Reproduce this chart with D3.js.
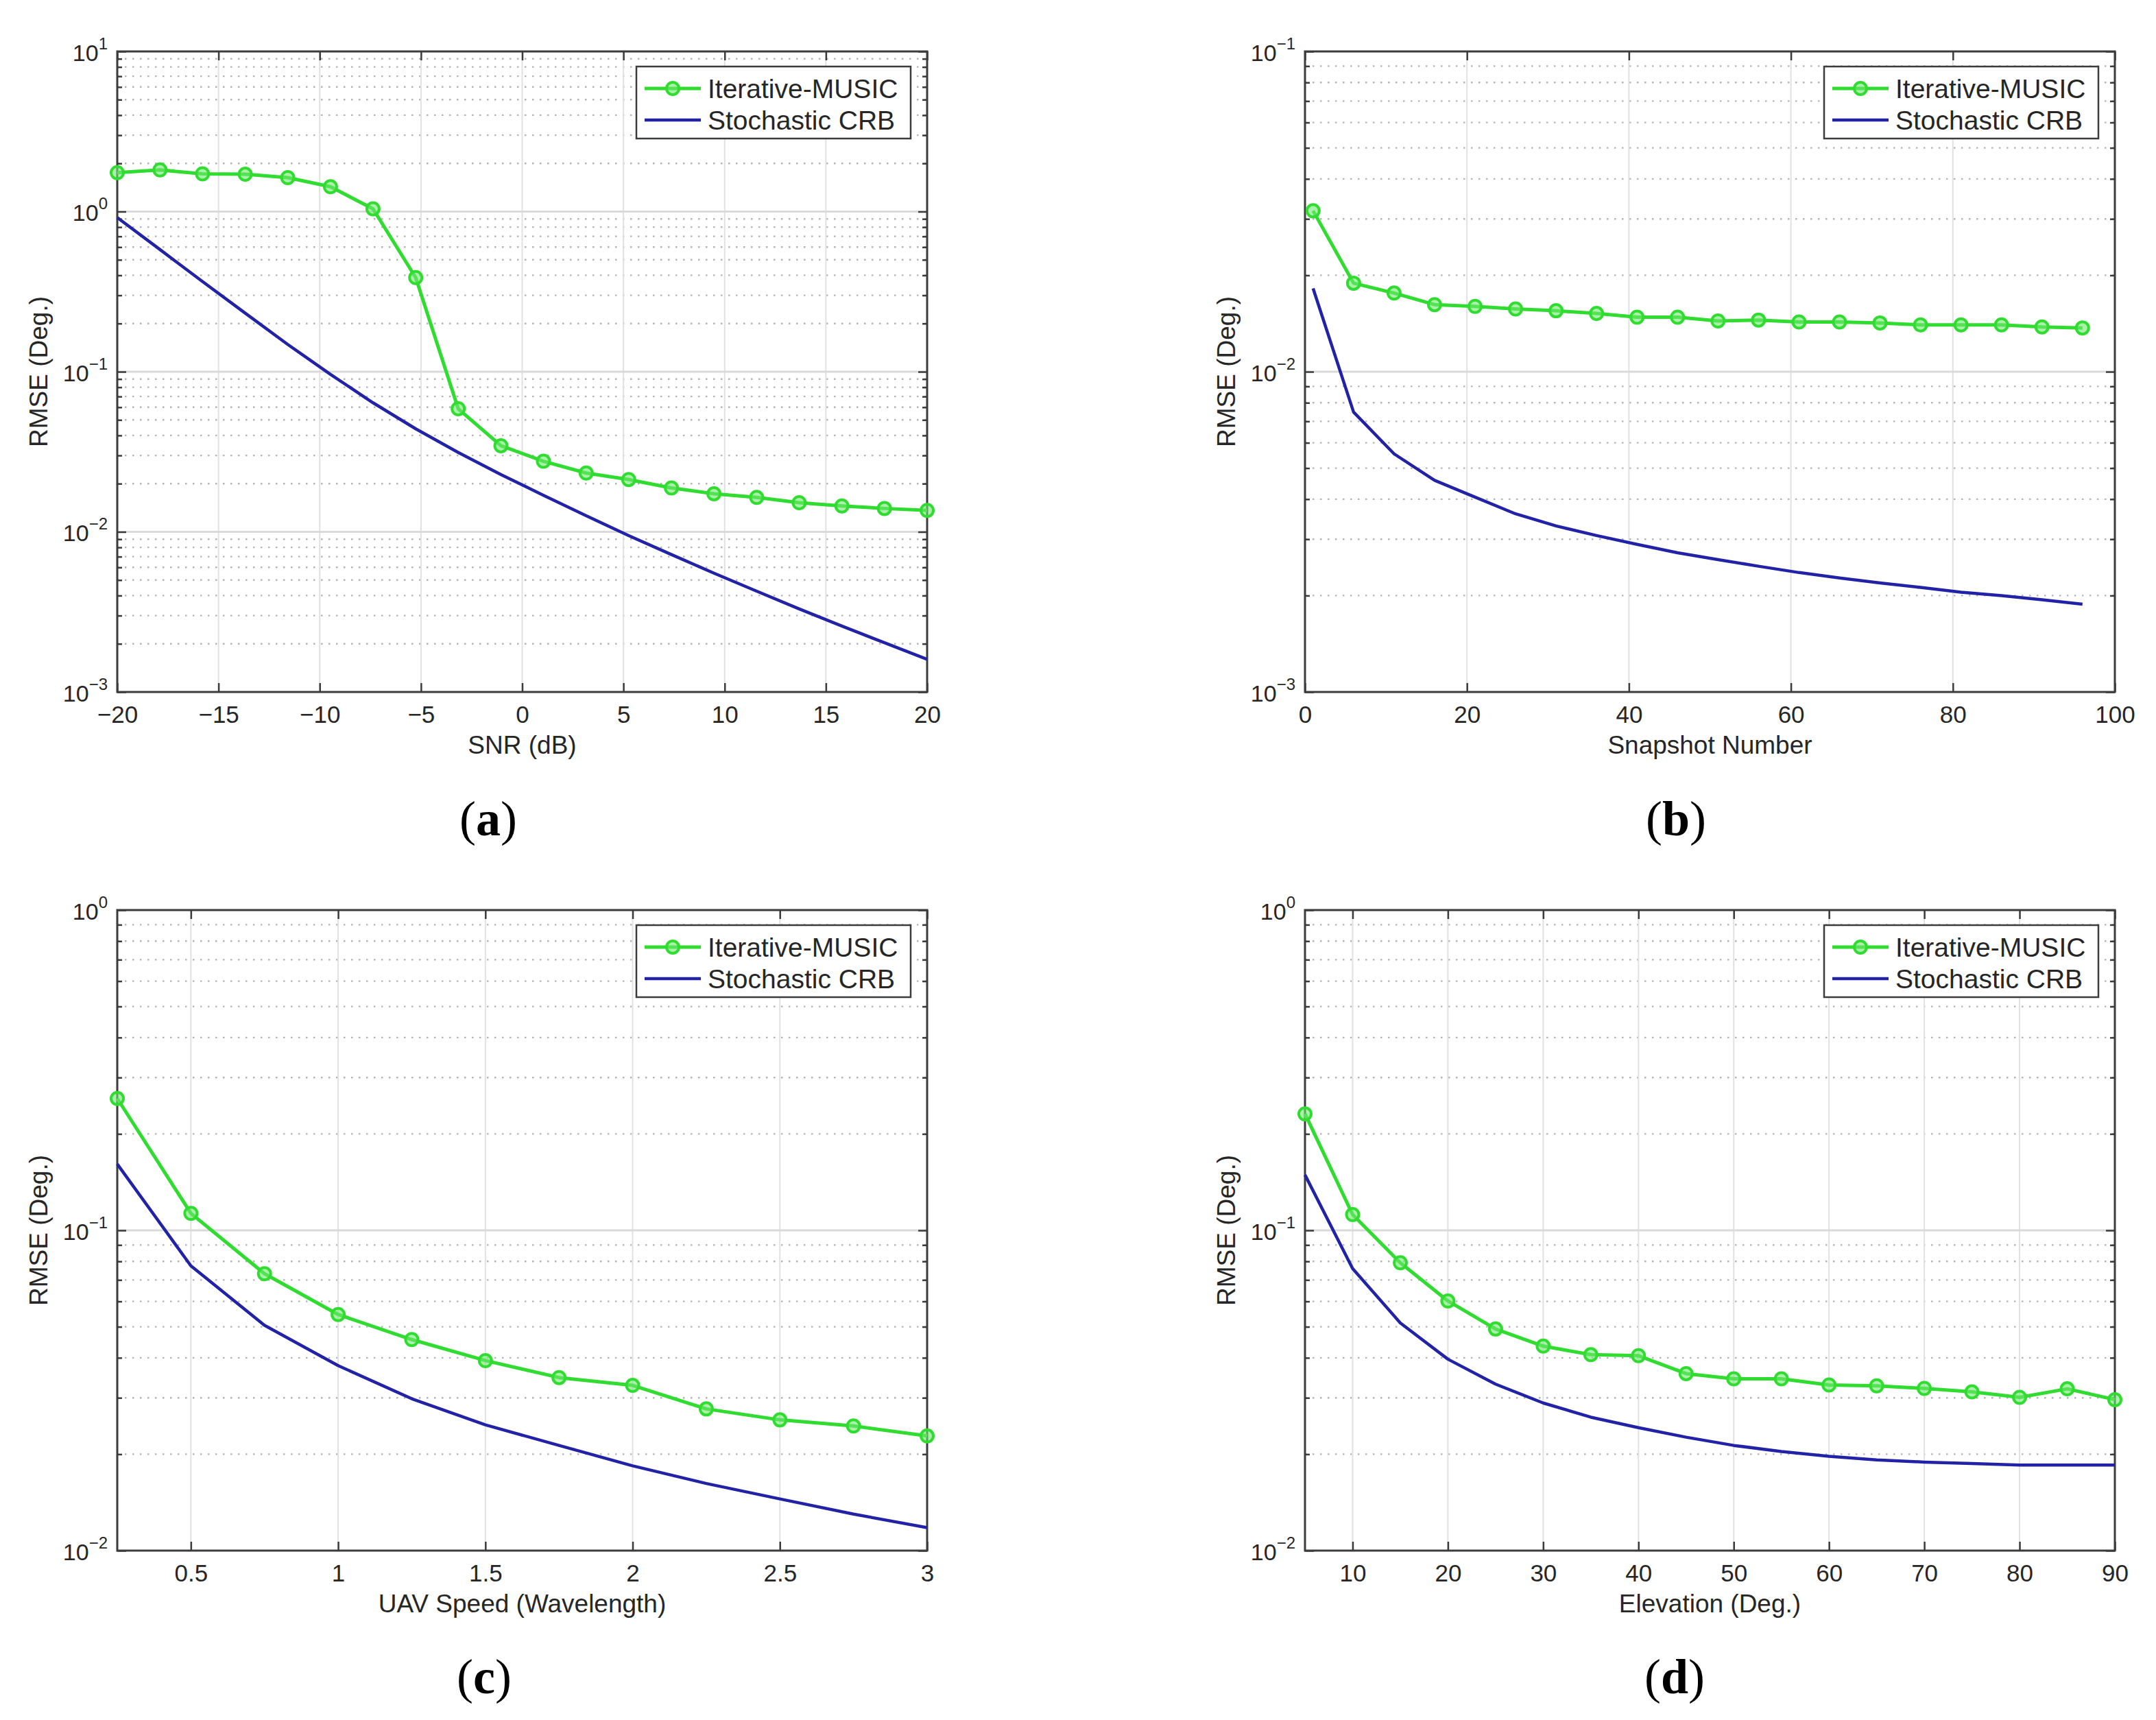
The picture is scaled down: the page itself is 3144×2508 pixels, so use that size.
<!DOCTYPE html>
<html>
<head>
<meta charset="utf-8">
<script src="https://cdn.jsdelivr.net/npm/d3@7"></script>
<style>
  html, body { margin: 0; padding: 0; background: #fff; }
  svg { display: block; }
  text { font-family: "Liberation Sans", Arial, sans-serif; fill: #262626; }
  text.caption { font-family: "Liberation Serif", "Times New Roman", serif; fill: #000; }
</style>
</head>
<body>
<div id="chart"></div>
<script>
// ---- data ----
const snrDb = [-20, -17.89, -15.79, -13.68, -11.58, -9.47, -7.37, -5.26, -3.16, -1.05,
               1.05, 3.16, 5.26, 7.37, 9.47, 11.58, 13.68, 15.79, 17.89, 20];
const musicSnr = [1.75, 1.82, 1.72, 1.71, 1.63, 1.43, 1.04, 0.387, 0.0587, 0.0345,
                  0.0276, 0.0233, 0.0212, 0.0188, 0.0173, 0.0164, 0.0152, 0.0145, 0.0140, 0.0136];
const crbSnr = [0.918, 0.579, 0.366, 0.232, 0.148, 0.0962, 0.0640, 0.0440, 0.0313, 0.0228,
                0.0169, 0.0126, 0.00948, 0.00721, 0.00552, 0.00426, 0.00330, 0.00258, 0.00203, 0.00160];

const snapshots = [1, 6, 11, 16, 21, 26, 31, 36, 41, 46, 51, 56, 61, 66, 71, 76, 81, 86, 91, 96];
const musicSnap = [0.0318, 0.0189, 0.0176, 0.0162, 0.0160, 0.0157, 0.0155, 0.0152, 0.0148, 0.0148,
                   0.0144, 0.0145, 0.0143, 0.0143, 0.0142, 0.0140, 0.0140, 0.0140, 0.0138, 0.0137];
const crbSnap = [0.0182, 0.00748, 0.00554, 0.00458, 0.00406, 0.00360, 0.00330, 0.00308, 0.00289, 0.00272,
                 0.00259, 0.00247, 0.00236, 0.00227, 0.00219, 0.00212, 0.00205, 0.00200, 0.00194, 0.00188];

const uavSpeed = [0.25, 0.5, 0.75, 1, 1.25, 1.5, 1.75, 2, 2.25, 2.5, 2.75, 3];
const musicSpeed = [0.258, 0.113, 0.0732, 0.0546, 0.0456, 0.0392, 0.0347, 0.0328, 0.0277, 0.0256, 0.0245, 0.0228];
const crbSpeed = [0.161, 0.0775, 0.0505, 0.0378, 0.0298, 0.0247, 0.0213, 0.0184, 0.0162, 0.0145, 0.0130, 0.0118];

const elevation = [5, 10, 15, 20, 25, 30, 35, 40, 45, 50, 55, 60, 65, 70, 75, 80, 85, 90];
const musicElev = [0.231, 0.112, 0.0792, 0.0602, 0.0492, 0.0435, 0.0409, 0.0406, 0.0357, 0.0344,
                   0.0344, 0.0329, 0.0327, 0.0321, 0.0313, 0.0301, 0.0320, 0.0296];
const crbElev = [0.149, 0.0760, 0.0514, 0.0396, 0.0331, 0.0289, 0.0261, 0.0242, 0.0226, 0.0213,
                 0.0204, 0.0197, 0.0192, 0.0189, 0.0187, 0.0185, 0.0185, 0.0185];

const seriesNames = ['Iterative-MUSIC', 'Stochastic CRB'];
const xTicksSnr = [-20, -15, -10, -5, 0, 5, 10, 15, 20];
const xTicksSnap = [0, 20, 40, 60, 80, 100];
const xTicksSpeed = [0.5, 1, 1.5, 2, 2.5, 3];
const xTicksElev = [10, 20, 30, 40, 50, 60, 70, 80, 90];
const xLabels = ['SNR (dB)', 'Snapshot Number', 'UAV Speed (Wavelength)', 'Elevation (Deg.)'];
const yLabel = 'RMSE (Deg.)';
const captions = ['a', 'b', 'c', 'd'];

// ---- layout ----
const W = 3144, H = 2508;
const plotW = 1181, plotH = 934;
const GREEN = '#2fdc2f', BLUE = '#2222a6', AXIS = '#3c3c3c';

const panels = [
  { left: 171,  top: 75,   xDom: [-20, 20],  yExp: [-3, 1],  xs: snrDb,     ys: [musicSnr, crbSnr],
    xTicks: xTicksSnr,   fmt: d => String(d).replace('-', '\u2212'), cap: [712, 1218] },
  { left: 1903, top: 75,   xDom: [0, 100],   yExp: [-3, -1], xs: snapshots, ys: [musicSnap, crbSnap],
    xTicks: xTicksSnap,  fmt: d => d, cap: [2444, 1218] },
  { left: 171,  top: 1327, xDom: [0.25, 3],  yExp: [-2, 0],  xs: uavSpeed,  ys: [musicSpeed, crbSpeed],
    xTicks: xTicksSpeed, fmt: d => d, cap: [706, 2469] },
  { left: 1903, top: 1327, xDom: [5, 90],    yExp: [-2, 0],  xs: elevation, ys: [musicElev, crbElev],
    xTicks: xTicksElev,  fmt: d => d, cap: [2442, 2469] }
];

const svg = d3.select('#chart').append('svg')
  .attr('width', W).attr('height', H)
  .attr('viewBox', `0 0 ${W} ${H}`);

svg.append('rect').attr('width', W).attr('height', H).attr('fill', '#fff');

panels.forEach((p, i) => {
  const x = d3.scaleLinear().domain(p.xDom).range([0, plotW]);
  const y = d3.scaleLog().domain([10 ** p.yExp[0], 10 ** p.yExp[1]]).range([plotH, 0]);

  const decades = d3.range(p.yExp[0], p.yExp[1] + 1).map(e => 10 ** e);
  const minors = [];
  d3.range(p.yExp[0], p.yExp[1]).forEach(e => {
    d3.range(2, 10).forEach(k => minors.push(k * 10 ** e));
  });
  const innerX = p.xTicks.filter(t => t > p.xDom[0] && t < p.xDom[1]);

  const g = svg.append('g').attr('transform', `translate(${p.left},${p.top})`);

  // grid: minor dotted, major solid
  g.append('g').selectAll('line').data(minors).join('line')
    .attr('x1', 0).attr('x2', plotW)
    .attr('y1', d => y(d)).attr('y2', d => y(d))
    .attr('stroke', '#b4b4b4').attr('stroke-width', 2.4)
    .attr('stroke-dasharray', '2.5 8.5');
  g.append('g').selectAll('line').data(innerX).join('line')
    .attr('x1', d => x(d)).attr('x2', d => x(d))
    .attr('y1', 0).attr('y2', plotH)
    .attr('stroke', '#e1e1e1').attr('stroke-width', 2);
  g.append('g').selectAll('line').data(decades.slice(1, -1)).join('line')
    .attr('x1', 0).attr('x2', plotW)
    .attr('y1', d => y(d)).attr('y2', d => y(d))
    .attr('stroke', '#dadada').attr('stroke-width', 3);

  // axes with inward ticks on all four sides
  const bottom = g.append('g').attr('transform', `translate(0,${plotH})`)
    .call(d3.axisBottom(x).tickValues(p.xTicks).tickFormat(p.fmt).tickSizeInner(-13).tickSizeOuter(0).tickPadding(20));
  bottom.selectAll('text').attr('font-size', 35).attr('fill', '#262626');

  g.append('g')
    .call(d3.axisTop(x).tickValues(p.xTicks).tickFormat('').tickSizeInner(-13).tickSizeOuter(0));

  const left = g.append('g')
    .call(d3.axisLeft(y).tickValues(decades).tickFormat('').tickSizeInner(-13).tickSizeOuter(0));
  left.selectAll('.tick text').each(function(d) {
    const t = d3.select(this).attr('dy', null).attr('y', 13).attr('x', -14)
      .attr('font-size', 34).attr('fill', '#262626');
    const e = Math.round(Math.log10(d));
    t.append('tspan').text('10');
    t.append('tspan').attr('dy', -17).attr('font-size', 24)
      .text(String(e).replace('-', '\u2212'));
  });
  g.append('g').call(d3.axisLeft(y).tickValues(minors).tickFormat('').tickSizeInner(-7).tickSizeOuter(0));

  g.append('g').attr('transform', `translate(${plotW},0)`)
    .call(d3.axisRight(y).tickValues(decades).tickFormat('').tickSizeInner(-13).tickSizeOuter(0));
  g.append('g').attr('transform', `translate(${plotW},0)`)
    .call(d3.axisRight(y).tickValues(minors).tickFormat('').tickSizeInner(-7).tickSizeOuter(0));

  g.selectAll('.domain').remove();
  g.selectAll('.tick line').attr('stroke', AXIS).attr('stroke-width', 2.5);

  g.append('rect').attr('width', plotW).attr('height', plotH)
    .attr('fill', 'none').attr('stroke', AXIS).attr('stroke-width', 3);

  // series
  const line = d3.line().x((d, j) => x(p.xs[j])).y(d => y(d));
  g.append('path').datum(p.ys[1]).attr('d', line)
    .attr('fill', 'none').attr('stroke', BLUE).attr('stroke-width', 4.5)
    .attr('stroke-linejoin', 'round');
  g.append('path').datum(p.ys[0]).attr('d', line)
    .attr('fill', 'none').attr('stroke', GREEN).attr('stroke-width', 5)
    .attr('stroke-linejoin', 'round');
  g.append('g').selectAll('circle').data(p.ys[0]).join('circle')
    .attr('cx', (d, j) => x(p.xs[j])).attr('cy', d => y(d)).attr('r', 9)
    .attr('fill', '#6fe86f').attr('fill-opacity', 0.6)
    .attr('stroke', GREEN).attr('stroke-width', 4);

  // axis labels
  g.append('text').attr('x', plotW / 2).attr('y', plotH + 90)
    .attr('text-anchor', 'middle').attr('font-size', 37).text(xLabels[i]);
  g.append('text')
    .attr('transform', `translate(-115,${plotH / 2}) rotate(-90)`)
    .attr('text-anchor', 'middle').attr('dy', '0.35em').attr('font-size', 37).text(yLabel);

  // legend
  const lg = g.append('g').attr('transform', `translate(${plotW - 24 - 400},22)`);
  lg.append('rect').attr('width', 400).attr('height', 105)
    .attr('fill', '#fff').attr('stroke', AXIS).attr('stroke-width', 2.5);
  [GREEN, BLUE].forEach((c, k) => {
    const ry = 32 + k * 46;
    lg.append('line').attr('x1', 12).attr('x2', 94).attr('y1', ry).attr('y2', ry)
      .attr('stroke', c).attr('stroke-width', k ? 4.5 : 5);
    if (!k) {
      lg.append('circle').attr('cx', 53).attr('cy', ry).attr('r', 9)
        .attr('fill', '#6fe86f').attr('fill-opacity', 0.6)
        .attr('stroke', GREEN).attr('stroke-width', 4);
    }
    lg.append('text').attr('x', 104).attr('y', ry + 14)
      .attr('font-size', 39).attr('fill', '#1a1a1a').text(seriesNames[k]);
  });

  // sub-figure caption
  const cap = svg.append('text').attr('class', 'caption')
    .attr('x', p.cap[0]).attr('y', p.cap[1]).attr('text-anchor', 'middle').attr('font-size', 72);
  cap.append('tspan').text('(');
  cap.append('tspan').attr('font-weight', 'bold').text(captions[i]);
  cap.append('tspan').text(')');
});
</script>
</body>
</html>
